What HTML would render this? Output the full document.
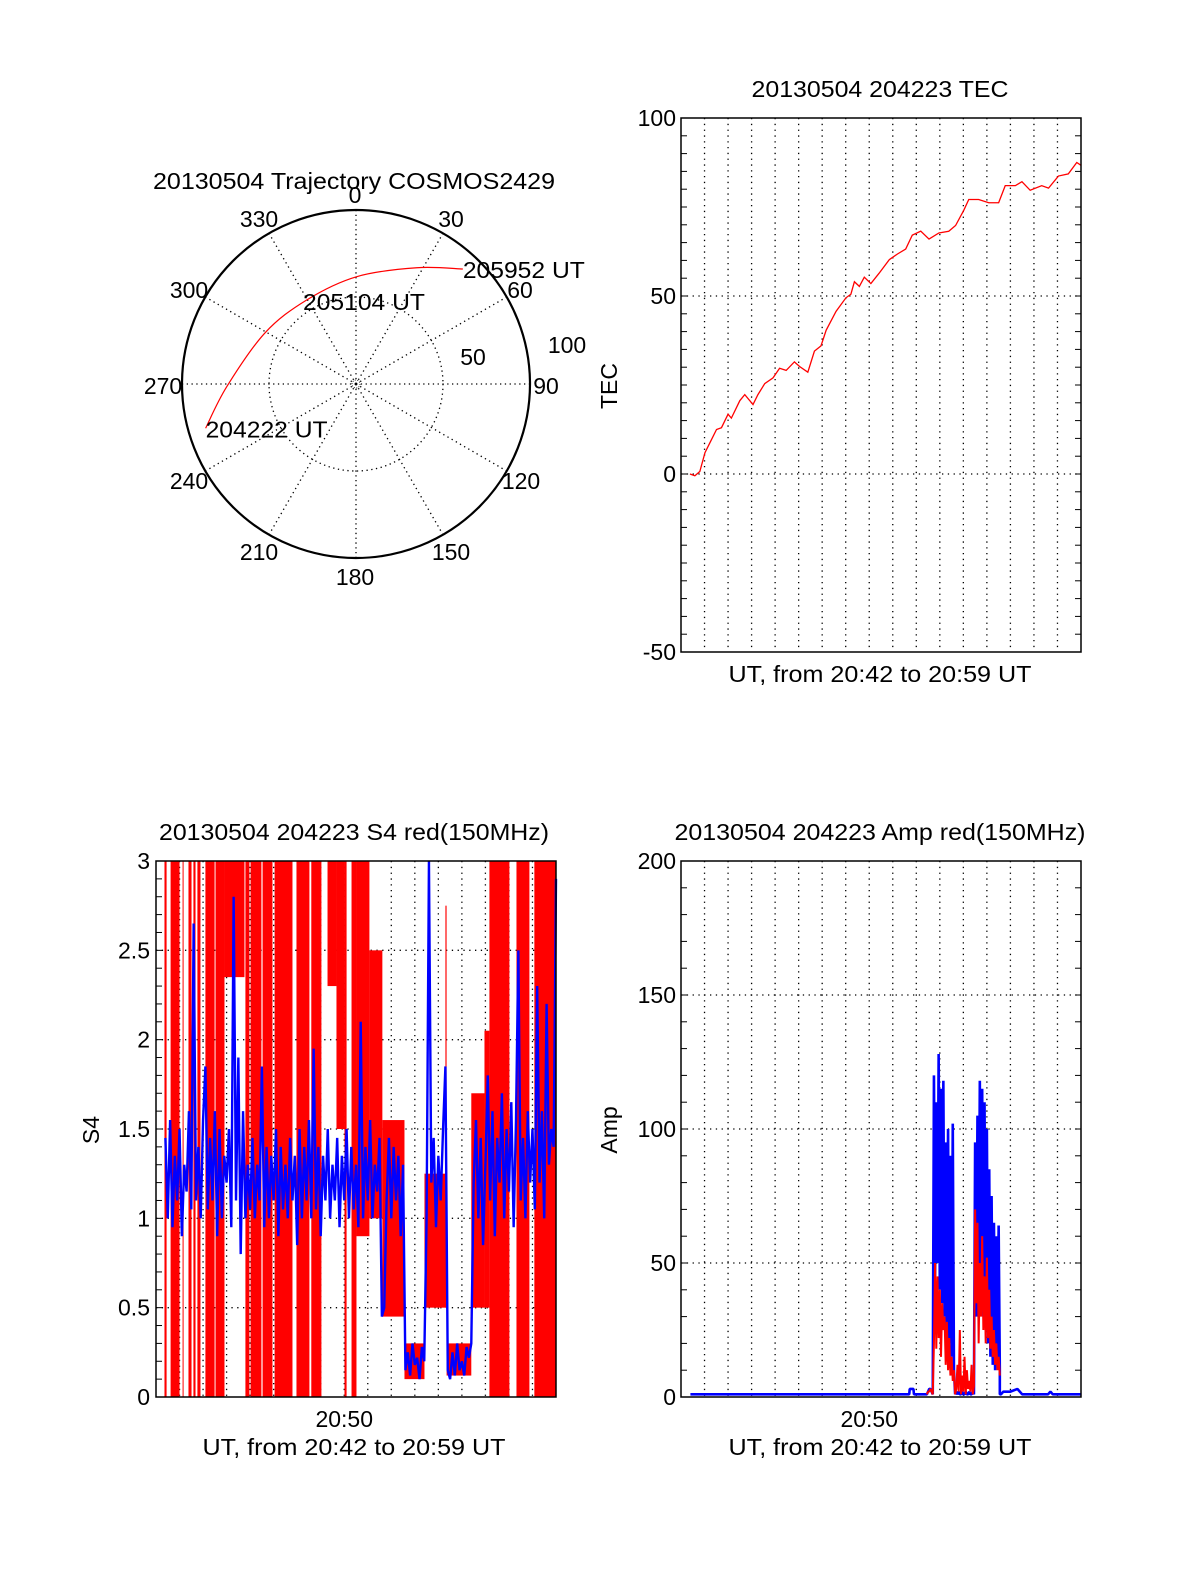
<!DOCTYPE html>
<html><head><meta charset="utf-8"><style>
html,body{margin:0;padding:0;background:#fff}
svg{display:block;font-family:"Liberation Sans",Arial,sans-serif}
text{fill:#000;font-size:23px}
</style></head><body>
<svg id="fig" width="1200" height="1575" viewBox="0 0 1200 1575" xmlns="http://www.w3.org/2000/svg">
<rect x="0" y="0" width="1200" height="1575" fill="#fff"/>
<g id="polar"></g>
<g id="tec"></g>
<g id="s4"></g>
<g id="amp"></g>
</svg>
<script>
// ---------- DATA ----------
const trajAz = [253.6, 268.8, 299.3, 329.6, 0.4, 27.6, 42.9];
const trajR = [90.1, 74.3, 60.0, 56.0, 61.7, 75.4, 90.2];
const polarAngles = [0,30,60,90,120,150,180,210,240,270,300,330];
const polarAngleLabels = ["0","30","60","90","120","150","180","210","240","270","300","330"];

const tecT = [0.38,0.59,0.80,1.02,1.23,1.51,1.72,2.0,2.14,2.5,2.71,3.06,3.27,3.56,3.91,4.19,4.47,4.82,5.04,5.39,5.67,5.95,6.17,6.59,7.01,7.22,7.37,7.58,7.79,8.07,8.42,8.85,9.2,9.55,9.83,10.19,10.54,10.96,11.38,11.67,12.02,12.23,12.65,13.08,13.5,13.78,14.21,14.49,14.84,15.33,15.62,16.04,16.46,16.82,17.0];
const tecV = [0,-0.5,0.7,6,8.8,12.5,13,16.8,15.7,20.6,22.3,19.5,22.3,25.4,27,29.7,29.1,31.5,30.2,28.6,34.5,36,40.4,45.7,49.5,50.5,54,52.7,55.3,53.5,56.4,60.2,61.8,63.2,67.1,68.2,66,67.7,68.2,69.8,74.1,77.1,77.1,76.2,76.2,81,81,82.1,79.7,81,80.3,83.7,84.3,87.5,86.7];
const tecTicks = [-50, 0, 50, 100];

const s4BlueStart = 0.4, s4BlueStep = 0.1;
const s4Blue = [1.45,1.0,1.55,0.95,1.35,1.1,1.5,0.9,1.3,1.15,1.6,1.05,
2.65,1.1,1.4,1.0,1.55,1.85,1.05,1.45,1.1,1.6,0.9,1.5,
1.0,1.35,1.2,1.5,0.95,2.8,1.1,1.9,0.8,1.6,1.0,1.3,
1.05,1.45,1.0,1.3,1.1,1.85,0.95,1.4,1.0,1.35,1.1,1.5,
0.9,1.4,1.05,1.3,1.0,1.45,1.1,1.35,0.85,1.5,1.0,1.4,
1.1,1.55,1.0,1.95,1.05,1.4,0.9,1.35,1.1,1.5,1.0,1.3,
1.1,1.45,0.95,1.35,1.1,1.5,1.0,1.4,1.05,1.3,0.95,2.1,
1.0,1.4,1.1,1.55,1.0,1.3,1.15,1.45,0.45,0.5,1.1,1.45,
1.0,1.4,1.1,1.35,0.9,1.3,
0.15,0.25,0.12,0.3,0.18,0.22,0.1,0.28,0.2,
1.0,3.0,1.2,1.45,0.95,1.35,1.1,1.5,1.85,
0.15,0.1,0.25,0.12,0.3,0.15,0.2,0.12,0.28,0.22,0.3,
1.2,1.55,1.0,1.45,0.85,1.3,1.8,1.1,1.6,0.9,1.45,1.2,
1.7,1.0,1.5,1.15,1.65,0.95,1.55,2.5,1.1,1.45,1.0,1.6,
1.2,1.5,1.05,2.3,1.2,1.6,1.0,2.2,1.3,1.5,1.4,2.9];
const s4RedStart = [0.36,0.62,1.13,1.38,1.59,1.76,2.1,2.53,2.91,3.80,4.02,4.53,5.04,5.97,6.6,7.29,7.67,8.01,8.31,8.52,9.07,9.62,10.56,11.41,12.3,12.35,13.4,13.96,14.17,15.32,16.08];
const s4RedEnd   = [0.45,1.0,1.17,1.51,1.68,1.89,2.49,2.91,3.76,3.97,4.48,4.95,5.8,6.52,7.03,7.67,8.01,8.1,8.52,9.07,9.62,10.56,11.41,12.35,12.35,13.4,13.96,14.17,15.02,15.87,16.98];
const s4RedLow   = [0,0,0,0,0,0,0,0,2.35,0,0,0,0,0,0,2.3,1.5,0,0,0.9,1.0,0.45,0.1,0.5,0.5,0.12,0.5,0.5,0,0,0];
const s4RedHigh  = [3,3,3,3,3,3,3,3,3,3,3,3,3,3,3,3,3,3,3,3,2.5,1.55,0.3,1.25,2.75,0.3,1.7,2.05,3,3,3];
const s4Ticks = [0,0.5,1,1.5,2,2.5,3];
const s4TickLabels = ["0","0.5","1","1.5","2","2.5","3"];

const ampStart = 10.45, ampStep = 0.05;
const ampBlue = [1,2,3,3,2,1,
120,45,110,50,128,40,115,35,118,30,95,25,100,20,90,15,102,10,
1,2,1,2,1,1,2,1,1,2,1,1,2,1,1,2,1,
95,30,105,40,118,35,115,30,110,25,100,20,85,15,75,12,65,10,60,12,64,10];
const ampRed = [1,2,2,3,2,1,
20,50,18,45,22,40,15,35,25,30,12,28,10,22,8,15,6,10,
1,3,12,2,25,1,8,2,15,1,10,3,6,2,12,1,4,
70,35,65,20,50,30,60,25,45,20,52,22,40,18,30,15,25,12,20,10,15,8];
const ampBluePreT = [0.4,2.0,4.0,6.0,8.0,9.7,9.72,9.8,9.88,9.9,10.0,10.45];
const ampBluePreV = [1,1,1,1,1,1,3,3,3,1,1,1];
const ampBluePostT = [13.55,13.6,13.7,14.0,14.3,14.5,15.0,15.6,15.7,15.8,16.0,17.0];
const ampBluePostV = [1,1,2,2,3,1,1,1,2,1,1,1];
const ampTicks = [0,50,100,150,200];

// ---------- HELPERS ----------
const NS = "http://www.w3.org/2000/svg";
function mk(parent, tag, attrs){const e=document.createElementNS(NS,tag);for(const k in attrs)e.setAttribute(k,attrs[k]);parent.appendChild(e);return e;}
function txt(parent,x,y,s,anchor,extra){const e=mk(parent,'text',Object.assign({x:x,y:y,'text-anchor':anchor||'middle'},extra||{}));e.textContent=s;return e;}

function frame(g, L, R, T, B, ymin, ymax, minorStep, gridVals){
  for(let m=1;m<17;m++){
    const x=L+(R-L)*m/17;
    const gl=mk(g,'line',{x1:x,y1:T,x2:x,y2:B,stroke:'#000','stroke-width':1.3,'stroke-dasharray':'1.3,4.5'});
    
    
  }
  gridVals.forEach(v=>{
    const y=B-(v-ymin)/(ymax-ymin)*(B-T);
    const gl=mk(g,'line',{x1:L,y1:y,x2:R,y2:y,stroke:'#000','stroke-width':1.3,'stroke-dasharray':'1.3,4.5'});
    
    
  });
  for(let v=ymin; v<=ymax+1e-9; v+=minorStep){
    const y=B-(v-ymin)/(ymax-ymin)*(B-T);
    mk(g,'line',{x1:L,y1:y,x2:L+6,y2:y,stroke:'#000','stroke-width':1});
    mk(g,'line',{x1:R,y1:y,x2:R-6,y2:y,stroke:'#000','stroke-width':1});
  }
}
function border(g,L,R,T,B){
  const r=mk(g,'rect',{x:L,y:T,width:R-L,height:B-T,fill:'none',stroke:'#000','stroke-width':1.5});
  
  
}

// ---------- POLAR ----------
(function(){
  const g=document.getElementById('polar');
  const cx=356, cy=384, R=174;
  const P=(az,r)=>[cx+r/100*R*Math.sin(az*Math.PI/180), cy-r/100*R*Math.cos(az*Math.PI/180)];
  polarAngles.forEach((a,i)=>{
    const p=P(a,100);
    const sp=mk(g,'line',{x1:cx,y1:cy,x2:p[0],y2:p[1],stroke:'#000','stroke-width':1.3,'stroke-dasharray':'1.3,3.5'});
    
    
  });
  const ic=mk(g,'circle',{cx:cx,cy:cy,r:R/2,fill:'none',stroke:'#000','stroke-width':1.3,'stroke-dasharray':'1.3,3.5'});
  
  
  mk(g,'circle',{cx:cx,cy:cy,r:4,fill:'none',stroke:'#000','stroke-width':0.8,'stroke-dasharray':'1,1.5'});
  const oc=mk(g,'circle',{cx:cx,cy:cy,r:R,fill:'none',stroke:'#000','stroke-width':2.2});
  
  
  const lp=[[355,203],[451,227],[520,298],[546,394],[521,489],[451,560],[355,585],[259,560],[189,489],[163,394],[189,298],[259,227]];
  polarAngleLabels.forEach((s,i)=>{
    const t=txt(g,lp[i][0],lp[i][1],s);
    
    
  });
  let t=txt(g,567,353,'100');  
  t=txt(g,473,365,'50');  
  t=txt(g,354,189,'20130504 Trajectory COSMOS2429',null,{textLength:402,lengthAdjust:'spacingAndGlyphs'});
   
  const pts=trajAz.map((a,i)=>P(a,trajR[i]));
  let d='M'+pts[0][0]+','+pts[0][1];
  for(let i=0;i<pts.length-1;i++){
    const p0=pts[Math.max(0,i-1)],p1=pts[i],p2=pts[i+1],p3=pts[Math.min(pts.length-1,i+2)];
    const c1=[p1[0]+(p2[0]-p0[0])/6,p1[1]+(p2[1]-p0[1])/6];
    const c2=[p2[0]-(p3[0]-p1[0])/6,p2[1]-(p3[1]-p1[1])/6];
    d+=' C'+c1[0]+','+c1[1]+' '+c2[0]+','+c2[1]+' '+p2[0]+','+p2[1];
  }
  const tr=mk(g,'path',{d:d,fill:'none',stroke:'#f00','stroke-width':1.2});
  
  
  t=txt(g,pts[0][0],pts[0][1]+9,'204222 UT','start',{textLength:122,lengthAdjust:'spacingAndGlyphs'});  
  t=txt(g,303,310,'205104 UT','start',{textLength:122,lengthAdjust:'spacingAndGlyphs'});  
  const pe=pts[pts.length-1];
  t=txt(g,pe[0],pe[1]+9,'205952 UT','start',{textLength:122,lengthAdjust:'spacingAndGlyphs'});  
})();

// ---------- TEC ----------
(function(){
  const g=document.getElementById('tec');
  const L=681,R=1081,T=118,B=652,ymin=-50,ymax=100;
  const X=t=>L+(R-L)*t/17, Y=v=>B-(v-ymin)/(ymax-ymin)*(B-T);
  frame(g,L,R,T,B,ymin,ymax,5,[0,50]);
  const line=mk(g,'polyline',{points:tecT.map((t,i)=>X(t)+','+Y(tecV[i])).join(' '),fill:'none',stroke:'#f00','stroke-width':1.3});
  
  
  border(g,L,R,T,B);
  tecTicks.forEach(v=>{const t=txt(g,676,Y(v)+8,String(v),'end');
     });
  let t=txt(g,880,97,'20130504 204223 TEC',null,{textLength:257,lengthAdjust:'spacingAndGlyphs'});
   
  t=txt(g,880,682,'UT, from 20:42 to 20:59 UT',null,{textLength:303,lengthAdjust:'spacingAndGlyphs'});
   
  t=txt(g,0,0,'TEC',null,{transform:'translate(617,386) rotate(-90)'});
   
})();

// ---------- S4 ----------
(function(){
  const g=document.getElementById('s4');
  const L=156,R=556,T=861,B=1397,ymin=0,ymax=3;
  const X=t=>L+(R-L)*t/17, Y=v=>B-(Math.min(v,ymax)-ymin)/(ymax-ymin)*(B-T);
  frame(g,L,R,T,B,ymin,ymax,0.1,[0.5,1,1.5,2,2.5]);
  s4RedStart.forEach((s,i)=>{
    const x1=X(s), x2=X(s4RedEnd[i]);
    const r=mk(g,'rect',{x:x1,y:Y(s4RedHigh[i]),width:Math.max(1,x2-x1),height:Y(s4RedLow[i])-Y(s4RedHigh[i]),fill:'#f00'});
    
    
  });
  const pts=s4Blue.map((v,i)=>X(s4BlueStart+i*s4BlueStep)+','+Y(v)).join(' ');
  const bl=mk(g,'polyline',{points:pts,fill:'none',stroke:'#00f','stroke-width':2.4,'stroke-linejoin':'bevel'});
  
  
  border(g,L,R,T,B);
  s4Ticks.forEach((v,i)=>{const t=txt(g,150,Y(v)+8,s4TickLabels[i],'end');
     });
  let t=txt(g,354,840,'20130504 204223 S4 red(150MHz)',null,{textLength:390,lengthAdjust:'spacingAndGlyphs'});
   
  t=txt(g,X(8),1427,'20:50');  
  t=txt(g,354,1455,'UT, from 20:42 to 20:59 UT',null,{textLength:303,lengthAdjust:'spacingAndGlyphs'});
   
  t=txt(g,0,0,'S4',null,{transform:'translate(99,1130) rotate(-90)'});
   
})();

// ---------- AMP ----------
(function(){
  const g=document.getElementById('amp');
  const L=681,R=1081,T=861,B=1397,ymin=0,ymax=200;
  const X=t=>L+(R-L)*t/17, Y=v=>B-(v-ymin)/(ymax-ymin)*(B-T);
  frame(g,L,R,T,B,ymin,ymax,10,[50,100,150]);
  const bp=[];
  ampBluePreT.forEach((t,i)=>bp.push(X(t)+','+Y(ampBluePreV[i])));
  ampBlue.forEach((v,i)=>bp.push(X(ampStart+i*ampStep)+','+Y(v)));
  ampBluePostT.forEach((t,i)=>bp.push(X(t)+','+Y(ampBluePostV[i])));
  const bl=mk(g,'polyline',{points:bp.join(' '),fill:'none',stroke:'#00f','stroke-width':2.6,'stroke-linejoin':'bevel'});
  
  
  const rp=ampRed.map((v,i)=>X(ampStart+i*ampStep)+','+Y(v)).join(' ');
  const rl=mk(g,'polyline',{points:rp,fill:'none',stroke:'#f00','stroke-width':2,'stroke-linejoin':'bevel'});
  
  
  border(g,L,R,T,B);
  ampTicks.forEach(v=>{const t=txt(g,676,Y(v)+8,String(v),'end');
     });
  let t=txt(g,880,840,'20130504 204223 Amp red(150MHz)',null,{textLength:411,lengthAdjust:'spacingAndGlyphs'});
   
  t=txt(g,X(8),1427,'20:50');  
  t=txt(g,880,1455,'UT, from 20:42 to 20:59 UT',null,{textLength:303,lengthAdjust:'spacingAndGlyphs'});
   
  t=txt(g,0,0,'Amp',null,{transform:'translate(617,1130) rotate(-90)'});
   
})();
</script>
</body></html>
